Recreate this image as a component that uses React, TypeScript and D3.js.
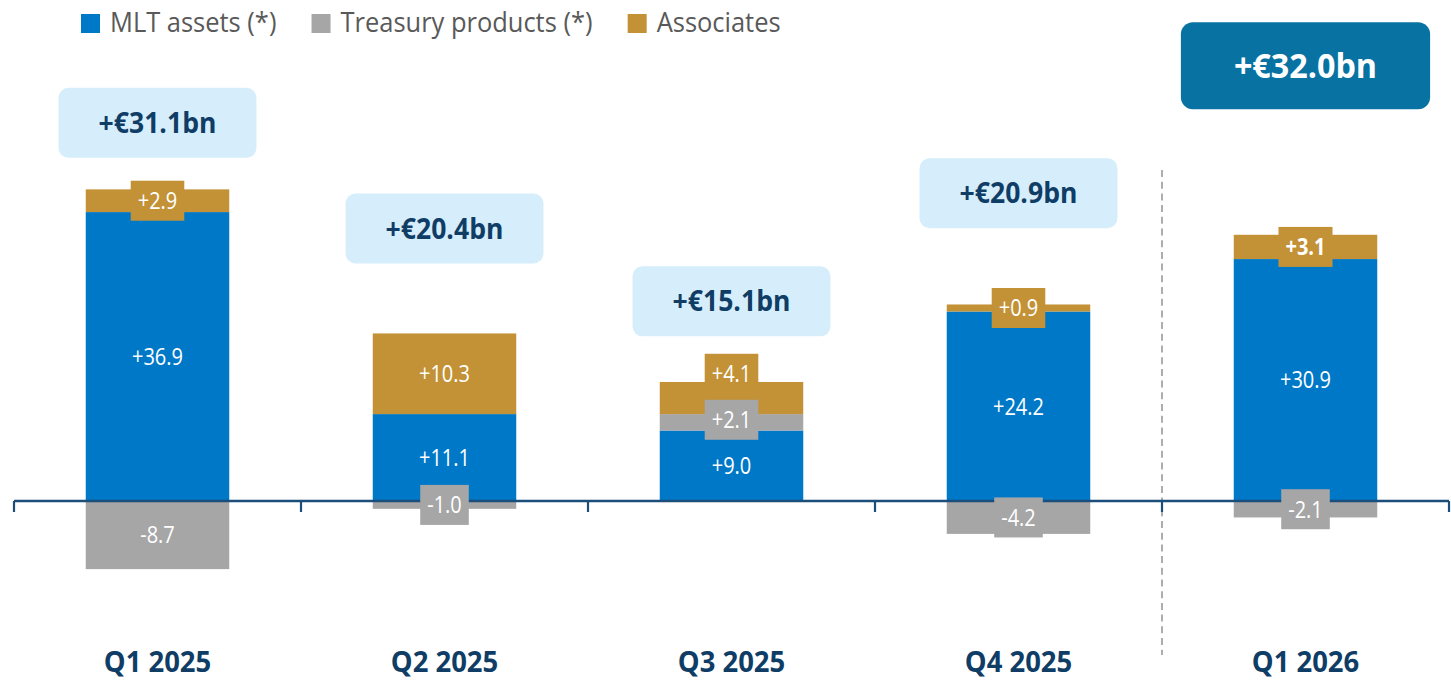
import React from "react";
import * as d3 from "d3";

const categories = ["Q1 2025", "Q2 2025", "Q3 2025", "Q4 2025", "Q1 2026"];
const mltAssets = [36.9, 11.1, 9.0, 24.2, 30.9];
const treasuryProducts = [-8.7, -1.0, 2.1, -4.2, -2.1];
const associates = [2.9, 10.3, 4.1, 0.9, 3.1];
const totals = [31.1, 20.4, 15.1, 20.9, 32.0];
// level (in chart units) at which each total callout is centred
const totalLevels = [48.3, 34.8, 25.5, 39.3, 55.6];
const seriesNames = ["MLT assets (*)", "Treasury products (*)", "Associates"];
const highlightIndex = 4;

const W = 1451;
const H = 681;
const FONT = "'Open Sans', 'Noto Sans', sans-serif";
const COLORS = ["#0078C8", "#A6A6A6", "#C39236"];
const NAVY = "#0F3D66";

let ctx: CanvasRenderingContext2D | null = null;
function measure(text: string, size: number, weight = 400) {
  if (!ctx) ctx = document.createElement("canvas").getContext("2d");
  if (!ctx) return text.length * size * 0.55;
  ctx.font = `${weight} ${size}px 'Open Sans'`;
  return ctx.measureText(text).width;
}

const fmt = (v: number) => (v >= 0 ? "+" : "-") + Math.abs(v).toFixed(1);

// condensed text helper
function CText(props: {
  x: number;
  y: number;
  sx: number;
  size: number;
  weight?: number;
  fill: string;
  anchor?: string;
  dy?: string;
  children: string;
}) {
  return (
    <g transform={`translate(${props.x},${props.y}) scale(${props.sx},1)`}>
      <text
        x={0}
        y={0}
        dy={props.dy}
        textAnchor={props.anchor || "start"}
        fontSize={props.size}
        fontWeight={props.weight || 400}
        fill={props.fill}
      >
        {props.children}
      </text>
    </g>
  );
}

const LEG_SIZE = 28;
const LEG_SX = 0.91;
const VAL_SIZE = 23;
const VAL_SX = 0.87;

export default function App() {
  const rows = categories.map((c, i) => ({
    cat: c,
    mlt: mltAssets[i],
    tre: treasuryProducts[i],
    asc: associates[i],
  }));
  const keys = ["mlt", "tre", "asc"];
  const stacked = d3
    .stack<any>()
    .keys(keys)
    .offset(d3.stackOffsetDiverging)(rows);

  const x = d3
    .scaleBand<string>()
    .domain(categories)
    .range([14, 1449])
    .paddingInner(0.5)
    .paddingOuter(0.25);
  const y = d3.scaleLinear().domain([-15, 60]).range([501 + 15 * 7.83, 501 - 60 * 7.83]);

  const step = x.step();
  const x0 = x.range()[0];
  const boundaries = d3.range(categories.length + 1).map((i) => x0 + i * step);

  // labels with simple collision avoidance within each stack
  const labels: any[] = [];
  categories.forEach((c, i) => {
    let prevPos = Infinity;
    let prevNeg = -Infinity;
    keys.forEach((k, si) => {
      const seg = stacked[si][i];
      const v = rows[i][k as "mlt"];
      const mid = (y(seg[0]) + y(seg[1])) / 2;
      let cy = mid;
      if (v >= 0) {
        cy = Math.min(mid, prevPos - 46);
        prevPos = cy;
      } else {
        cy = Math.max(mid, prevNeg + 46);
        prevNeg = cy;
      }
      const bold = i === highlightIndex && k === "asc";
      const text = fmt(v);
      const tw = measure(text, VAL_SIZE, bold ? 700 : 400) * VAL_SX;
      labels.push({ i, si, cy, text, tw, bold, cx: (x(c) as number) + x.bandwidth() / 2 });
    });
  });

  // legend layout
  let lx = 81;
  const legendItems = seriesNames.map((n, i) => {
    const item = { n, i, mx: lx, tx: lx + 29 };
    lx = item.tx + measure(n, LEG_SIZE) * LEG_SX + 35;
    return item;
  });

  return (
    <svg
      width={W}
      height={H}
      style={{ position: "absolute", left: 0, top: 0, background: "#fff" }}
      fontFamily={FONT}
    >
      {/* legend */}
      {legendItems.map((it) => (
        <g key={it.n}>
          <rect x={it.mx} y={14} width={19} height={19} fill={COLORS[it.i]} />
          <CText x={it.tx} y={32} sx={LEG_SX} size={LEG_SIZE} fill="#595959">
            {it.n}
          </CText>
        </g>
      ))}

      {/* divider */}
      <line
        x1={boundaries[4]}
        x2={boundaries[4]}
        y1={170}
        y2={655}
        stroke="#999"
        strokeWidth={1.6}
        strokeDasharray="7,4.7"
      />

      {/* bars */}
      {stacked.map((s, si) =>
        s.map((seg, i) => (
          <rect
            key={`${si}-${i}`}
            x={x(categories[i])}
            width={x.bandwidth()}
            y={Math.min(y(seg[0]), y(seg[1]))}
            height={Math.abs(y(seg[0]) - y(seg[1]))}
            fill={COLORS[si]}
          />
        ))
      )}

      {/* axis */}
      <line x1={boundaries[0]} x2={boundaries[boundaries.length - 1]} y1={y(0)} y2={y(0)} stroke="#1B4E7A" strokeWidth={2.6} />
      {boundaries.map((b, i) => (
        <line key={i} x1={b} x2={b} y1={y(0)} y2={y(0) + 11} stroke="#1B4E7A" strokeWidth={2.2} />
      ))}

      {/* value labels */}
      {labels.map((l, k) => (
        <g key={k}>
          <rect x={l.cx - l.tw / 2 - 7} y={l.cy - 20} width={l.tw + 14} height={40} fill={COLORS[l.si]} />
          <CText
            x={l.cx}
            y={l.cy}
            sx={VAL_SX}
            dy="0.36em"
            anchor="middle"
            size={VAL_SIZE}
            weight={l.bold ? 700 : 400}
            fill="#fff"
          >
            {l.text}
          </CText>
        </g>
      ))}

      {/* total callouts */}
      {totals.map((t, i) => {
        const hi = i === highlightIndex;
        const size = hi ? 34 : 28;
        const sx = 0.95;
        const text = `+€${t.toFixed(1)}bn`;
        const tw = measure(text, size, 700) * sx;
        const bw = tw + (hi ? 106 : 80);
        const bh = hi ? 87 : 70;
        const cx = (x(categories[i]) as number) + x.bandwidth() / 2;
        const cy = y(totalLevels[i]);
        return (
          <g key={i}>
            <rect
              x={cx - bw / 2}
              y={cy - bh / 2}
              width={bw}
              height={bh}
              rx={hi ? 12 : 10}
              fill={hi ? "#0873A2" : "#D6EEFB"}
            />
            <CText
              x={cx}
              y={cy}
              sx={sx}
              dy="0.36em"
              anchor="middle"
              size={size}
              weight={700}
              fill={hi ? "#fff" : NAVY}
            >
              {text}
            </CText>
          </g>
        );
      })}

      {/* category labels */}
      {categories.map((c) => (
        <CText
          key={c}
          x={(x(c) as number) + x.bandwidth() / 2}
          y={672}
          sx={0.98}
          anchor="middle"
          size={28}
          weight={700}
          fill={NAVY}
        >
          {c}
        </CText>
      ))}
    </svg>
  );
}
